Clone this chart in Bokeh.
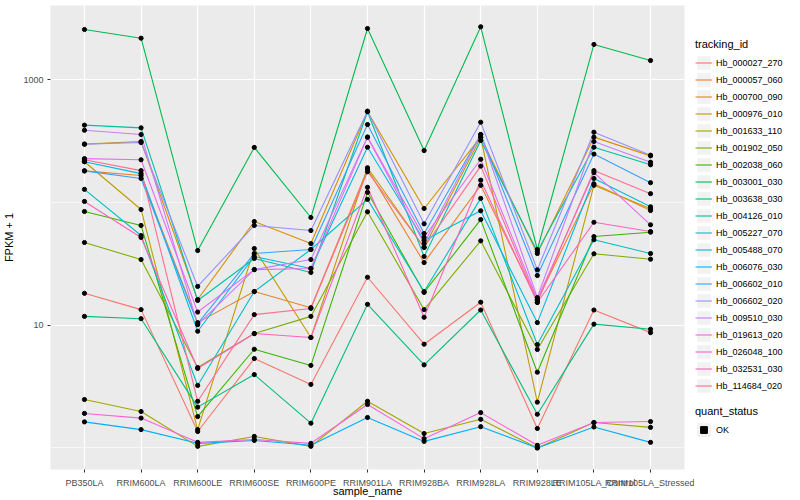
from bokeh.plotting import figure
from bokeh.models import (FactorRange, Range1d, FixedTicker, NumeralTickFormatter,
                          Legend, LegendItem, ColumnDataSource)
from bokeh.layouts import row
from bokeh.embed import file_html
from bokeh.resources import INLINE

FONT = "Liberation Sans"

samples = ["PB350LA", "RRIM600LA", "RRIM600LE", "RRIM600SE", "RRIM600PE",
           "RRIM901LA", "RRIM928BA", "RRIM928LA", "RRIM928LE",
           "RRIM105LA_Control", "RRIM105LA_Stressed"]

tracking_ids = ["Hb_000027_270", "Hb_000057_060", "Hb_000700_090", "Hb_000976_010",
                "Hb_001633_110", "Hb_001902_050", "Hb_002038_060", "Hb_003001_030",
                "Hb_003638_030", "Hb_004126_010", "Hb_005227_070", "Hb_005488_070",
                "Hb_006076_030", "Hb_006602_010", "Hb_006602_020", "Hb_009510_030",
                "Hb_019613_020", "Hb_026048_100", "Hb_032531_030", "Hb_114684_020"]

colors = ["#F8766D", "#EA8331", "#D89000", "#C09B00", "#A3A500", "#7CAE00", "#39B600",
          "#00BB4E", "#00BF7D", "#00C1A3", "#00BFC4", "#00BAE0", "#00B0F6", "#35A2FF",
          "#9590FF", "#C77CFF", "#E76BF3", "#FA62DB", "#FF62BC", "#FF6C91"]

# FPKM per sample (order of `samples`)
hb_000027_270 = [17.2, 12.4, 0.36, 4.35, 2.29, 23.6, 6.0, 14.4, 0.44, 12.3, 7.7]
hb_000057_060 = [180, 165, 9.5, 17.8, 12.9, 186, 31.4, 137, 14.9, 141, 85]
hb_000700_090 = [298, 313, 15.2, 69, 45.3, 551, 88.4, 340, 37.4, 340, 239]
hb_000976_010 = [214, 86.7, 0.41, 41.2, 6.94, 191, 42, 338, 1.36, 137, 87.9]
hb_001633_110 = [1.48, 0.98, 0.03, 0.24, 0.03, 1.40, 0.31, 0.71, 0.0, 0.61, 0.47]
hb_001902_050 = [46.2, 33.3, 3.52, 7.55, 10.8, 83, 12.4, 47.7, 5.34, 37.2, 33.5]
hb_002038_060 = [83.5, 64, 0.80, 5.37, 3.70, 120, 17.5, 71.6, 3.14, 51.8, 56.3]
hb_003001_030 = [2569, 2182, 39.6, 280, 74.5, 2617, 264, 2703, 40.4, 1940, 1435]
hb_003638_030 = [10.8, 10.3, 1.15, 2.96, 0.59, 13.8, 3.75, 12.3, 0.88, 9.2, 8.27]
hb_004126_010 = [426, 405, 14.9, 34, 25.9, 548, 35.3, 319, 38.9, 281, 202]
hb_005227_070 = [127, 52.8, 2.23, 17.8, 40.4, 105, 17.8, 107, 5.96, 48.7, 37.4]
hb_005488_070 = [214, 171, 7.93, 35.3, 28, 281, 48, 84.6, 9.5, 156, 91.3]
hb_006076_030 = [0.63, 0.41, 0.09, 0.15, 0.05, 0.77, 0.13, 0.49, 0.0, 0.48, 0.11]
hb_006602_010 = [180, 156, 9.3, 37.4, 40.4, 431, 54.9, 357, 24.4, 247, 144]
hb_006602_020 = [298, 307, 19.7, 64, 58.1, 554, 66, 450, 27.3, 373, 242]
hb_009510_030 = [387, 357, 9.1, 27.4, 33.3, 340, 45.3, 357, 15.8, 313, 212]
hb_019613_020 = [227, 222, 11.8, 27.4, 28, 340, 51.1, 224, 15.2, 174, 64.8]
hb_026048_100 = [0.91, 0.75, 0.11, 0.17, 0.09, 1.26, 0.19, 0.94, 0.05, 0.61, 0.64]
hb_032531_030 = [101, 50.9, 3.44, 7.55, 6.94, 132, 10.6, 151, 14.3, 68, 57]
hb_114684_020 = [222, 181, 1.40, 11.2, 12.7, 177, 42.2, 197, 14.4, 181, 117]

series = [hb_000027_270, hb_000057_060, hb_000700_090, hb_000976_010, hb_001633_110,
          hb_001902_050, hb_002038_060, hb_003001_030, hb_003638_030, hb_004126_010,
          hb_005227_070, hb_005488_070, hb_006076_030, hb_006602_010, hb_006602_020,
          hb_009510_030, hb_019613_020, hb_026048_100, hb_032531_030, hb_114684_020]

quant_status = ["OK"]

y_ticks = [10, 1000]
y_minor = [1, 100]

p = figure(width=694, height=500,
           x_range=FactorRange(factors=samples, range_padding=0.1,
                               range_padding_units="absolute"),
           y_axis_type="log", y_range=Range1d(0.667, 4032),
           output_backend="svg", toolbar_location=None,
           min_border_left=45, min_border_right=10,
           min_border_top=5, min_border_bottom=31)
p.background_fill_color = "#EBEBEB"
p.border_fill_color = "white"
p.outline_line_color = None

p.xgrid.grid_line_color = "white"
p.xgrid.grid_line_width = 1.2
p.ygrid.grid_line_color = "white"
p.ygrid.grid_line_width = 1.2
p.ygrid.minor_grid_line_color = "white"
p.ygrid.minor_grid_line_width = 0.6

p.yaxis.ticker = FixedTicker(ticks=y_ticks, minor_ticks=y_minor)
p.yaxis.formatter = NumeralTickFormatter(format="0")

for ax in (p.xaxis[0], p.yaxis[0]):
    ax.axis_line_color = None
    ax.major_tick_line_color = "#333333"
    ax.major_tick_out = 3
    ax.major_tick_in = 0
    ax.minor_tick_line_color = None
    ax.major_label_text_font = FONT
    ax.major_label_text_font_size = "9px"
    ax.major_label_text_color = "#4D4D4D"
    ax.axis_label_text_font = FONT
    ax.axis_label_text_font_size = "11px"
    ax.axis_label_text_font_style = "normal"
    ax.axis_label_text_color = "black"

p.xaxis.major_label_standoff = 5
p.xaxis.axis_label_standoff = -6
p.yaxis.major_label_standoff = 3
p.yaxis.axis_label_standoff = 5

p.xaxis.axis_label = "sample_name"
p.yaxis.axis_label = "FPKM + 1"

sources = []
for vals in series:
    sources.append(ColumnDataSource(dict(x=samples, y=[v + 1 for v in vals])))

for src, c in zip(sources, colors):
    p.line("x", "y", source=src, line_color=c, line_width=1.1)
for src in sources:
    p.scatter("x", "y", source=src, size=4.2, color="black")

# ---- legend panel (separate figure, frame aligned with the main one) ----
q = figure(width=106, height=500, x_range=Range1d(0, 1), y_range=Range1d(0, 1),
           output_backend="svg", toolbar_location=None, min_border=0,
           x_axis_location=None, y_axis_location=None)
q.outline_line_color = None
q.grid.visible = False
q.background_fill_color = "white"
q.border_fill_color = "white"

# legend key proxies: one datum each, placed outside q's visible range
off = dict(x=[5], y=[5])
key_bg = q.quad(left=[5], right=[5], bottom=[5], top=[5],
                fill_color="#F2F2F2", line_color=None)
items = []
for tid, c in zip(tracking_ids, colors):
    lr = q.line(x=off["x"], y=off["y"], line_color=c, line_width=1.1)
    items.append(LegendItem(label=tid, renderers=[key_bg, lr]))
dot = q.scatter(x=off["x"], y=off["y"], marker="square", size=4, color="black")


def style(leg):
    leg.title_text_font = FONT
    leg.title_text_font_size = "11px"
    leg.title_text_font_style = "normal"
    leg.title_text_color = "black"
    leg.title_standoff = 4
    leg.label_text_font = FONT
    leg.label_text_font_size = "9px"
    leg.label_text_color = "black"
    leg.glyph_width = 17
    leg.glyph_height = 17
    leg.label_height = 17
    leg.label_standoff = 4
    leg.spacing = 0
    leg.padding = 0
    leg.margin = 0
    leg.border_line_color = None
    leg.background_fill_alpha = 0


leg1 = Legend(items=items, title="tracking_id", location=(1, 75))
style(leg1)
leg2 = Legend(items=[LegendItem(label=quant_status[0], renderers=[key_bg, dot])],
              title="quant_status", location=(1, 31))
style(leg2)
q.add_layout(leg1)
q.add_layout(leg2)

layout = row(p, q)
open("out.html", "w").write(file_html(layout, INLINE))
